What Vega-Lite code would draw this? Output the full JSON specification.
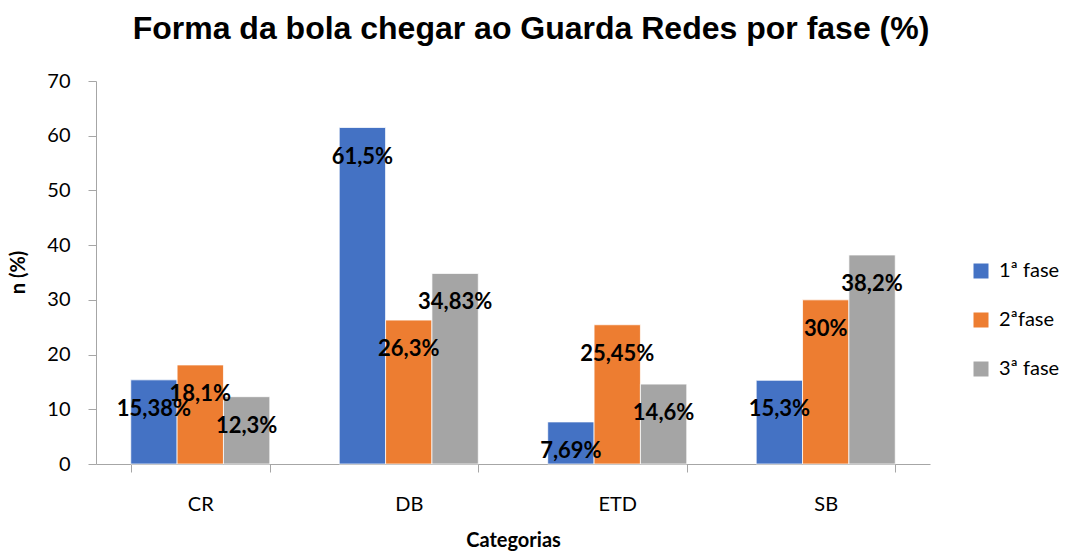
{
  "$schema": "https://vega.github.io/schema/vega-lite/v6.json",
  "autosize": "none",
  "width": 834,
  "height": 383,
  "padding": {"left": 96, "top": 81, "right": 138, "bottom": 87},
  "background": "white",
  "title": {
    "text": "Forma da bola chegar ao Guarda Redes por fase (%)",
    "font": "Liberation Sans",
    "fontSize": 32,
    "fontWeight": "bold",
    "color": "#000000",
    "anchor": "middle",
    "dx": 18,
    "offset": 0,
    "baseline": "alphabetic"
  },
  "data": {
    "values": [
      {"categoria": "CR", "fase": "1ª fase", "valor": 15.38, "rotulo": "15,38%"},
      {"categoria": "CR", "fase": "2ªfase", "valor": 18.1, "rotulo": "18,1%"},
      {"categoria": "CR", "fase": "3ª fase", "valor": 12.3, "rotulo": "12,3%"},
      {"categoria": "DB", "fase": "1ª fase", "valor": 61.5, "rotulo": "61,5%"},
      {"categoria": "DB", "fase": "2ªfase", "valor": 26.3, "rotulo": "26,3%"},
      {"categoria": "DB", "fase": "3ª fase", "valor": 34.83, "rotulo": "34,83%"},
      {"categoria": "ETD", "fase": "1ª fase", "valor": 7.69, "rotulo": "7,69%"},
      {"categoria": "ETD", "fase": "2ªfase", "valor": 25.45, "rotulo": "25,45%"},
      {"categoria": "ETD", "fase": "3ª fase", "valor": 14.6, "rotulo": "14,6%"},
      {"categoria": "SB", "fase": "1ª fase", "valor": 15.3, "rotulo": "15,3%"},
      {"categoria": "SB", "fase": "2ªfase", "valor": 30, "rotulo": "30%"},
      {"categoria": "SB", "fase": "3ª fase", "valor": 38.2, "rotulo": "38,2%"}
    ]
  },
  "encoding": {
    "x": {
      "field": "categoria",
      "type": "nominal",
      "sort": ["CR", "DB", "ETD", "SB"],
      "scale": {"paddingInner": 0.333, "paddingOuter": 0.1667},
      "axis": {
        "title": "Categorias",
        "titleFont": "Lato",
        "titleFontSize": 20,
        "titleFontWeight": "bold",
        "titleColor": "#000000",
        "titleBaseline": "middle",
        "titleY": 76,
        "labelFont": "Lato",
        "labelFontSize": 20,
        "labelColor": "#000000",
        "labelAngle": 0,
        "labelPadding": 22,
        "tickBand": "extent",
        "tickSize": 8,
        "tickColor": "#A6A6A6",
        "domainColor": "#A6A6A6",
        "grid": false
      }
    },
    "xOffset": {"field": "fase", "type": "nominal", "sort": ["1ª fase", "2ªfase", "3ª fase"]},
    "y": {
      "field": "valor",
      "type": "quantitative",
      "scale": {"domain": [0, 70]},
      "axis": {
        "title": "n (%)",
        "titleFont": "Lato",
        "titleFontSize": 20,
        "titleFontWeight": "bold",
        "titleColor": "#000000",
        "titleAngle": 270,
        "titleAlign": "center",
        "titleBaseline": "middle",
        "titleX": -78,
        "titleY": 191,
        "values": [0, 10, 20, 30, 40, 50, 60, 70],
        "labelFont": "Lato",
        "labelFontSize": 20,
        "labelColor": "#000000",
        "labelPadding": 18,
        "tickSize": 8,
        "tickColor": "#A6A6A6",
        "domainColor": "#A6A6A6",
        "grid": false
      }
    }
  },
  "layer": [
    {
      "mark": {"type": "bar", "stroke": "#FFFFFF", "strokeWidth": 0.75},
      "encoding": {
        "color": {
          "field": "fase",
          "type": "nominal",
          "scale": {"domain": ["1ª fase", "2ªfase", "3ª fase"], "range": ["#4472C4", "#ED7D31", "#A5A5A5"]},
          "legend": {
            "title": null,
            "orient": "none",
            "legendX": 875,
            "legendY": 180,
            "symbolType": "square",
            "symbolSize": 225,
            "symbolStrokeWidth": 0,
            "labelFont": "Lato",
            "labelFontSize": 20,
            "labelColor": "#000000",
            "labelOffset": 8,
            "rowPadding": 29
          }
        }
      }
    },
    {
      "mark": {"type": "text", "dy": 29, "baseline": "middle", "align": "center", "font": "Lato", "fontSize": 22, "fontWeight": "bold", "color": "#000000"},
      "encoding": {"text": {"field": "rotulo"}}
    }
  ],
  "config": {"view": {"stroke": null}}
}
